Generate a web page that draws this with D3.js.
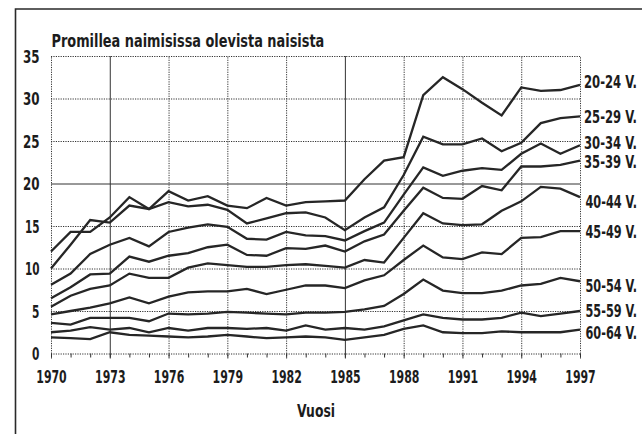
<!DOCTYPE html>
<html><head><meta charset="utf-8">
<script src="https://cdn.jsdelivr.net/npm/d3@7"></script>
<style>
html,body{margin:0;padding:0;background:#fff;}
svg{display:block;}
text{font-family:"Liberation Sans Narrow","Arial Narrow","DejaVu Sans Condensed","Roboto",sans-serif;font-weight:bold;font-stretch:condensed;fill:#1c1c1c;}
</style></head><body>
<svg id="c" width="642" height="434"></svg>
<script>
// ---- data ----
const years = [1970,1971,1972,1973,1974,1975,1976,1977,1978,1979,1980,1981,1982,1983,1984,1985,1986,1987,1988,1989,1990,1991,1992,1993,1994,1995,1996,1997];
const xTickYears = [1970,1973,1976,1979,1982,1985,1988,1991,1994,1997];
const yTicks = [0,5,10,15,20,25,30,35];
const seriesNames = ["20-24 V.","25-29 V.","30-34 V.","35-39 V.","40-44 V.","45-49 V.","50-54 V.","55-59 V.","60-64 V."];
const v20_24 = [12.0,14.3,14.3,16.0,18.4,17.0,19.1,18.0,18.5,17.4,17.1,18.3,17.4,17.8,17.9,18.0,20.5,22.7,23.1,30.4,32.5,31.1,29.5,28.0,31.3,30.9,31.0,31.6];
const v25_29 = [10.0,12.8,15.7,15.4,17.4,17.0,17.8,17.3,17.5,16.9,15.3,15.9,16.5,16.6,16.0,14.5,16.0,17.2,21.0,25.5,24.6,24.6,25.3,23.8,24.8,27.1,27.7,27.9];
const v30_34 = [8.1,9.4,11.7,12.8,13.6,12.6,14.3,14.8,15.2,14.9,13.5,13.4,14.3,13.9,13.8,13.3,14.4,15.4,18.7,21.9,20.9,21.5,21.8,21.6,23.5,24.7,23.5,24.5];
const v35_39 = [6.5,7.8,9.3,9.4,11.4,10.8,11.5,11.8,12.5,12.8,11.6,11.5,12.4,12.3,12.7,12.0,13.2,14.0,16.8,19.5,18.3,18.2,19.7,19.2,22.0,22.0,22.2,22.7];
const v40_44 = [5.5,6.8,7.6,8.0,9.4,8.9,8.9,10.1,10.6,10.4,10.2,10.2,10.4,10.5,10.3,10.1,11.0,10.7,13.6,16.5,15.3,15.1,15.2,16.8,17.9,19.6,19.4,18.4];
const v45_49 = [4.6,5.0,5.4,5.9,6.6,5.9,6.7,7.2,7.3,7.3,7.6,7.0,7.5,8.0,8.0,7.7,8.6,9.2,11.0,12.7,11.3,11.1,11.9,11.7,13.6,13.7,14.4,14.4];
const v50_54 = [3.6,3.4,4.2,4.2,4.2,3.8,4.7,4.6,4.7,4.9,4.8,4.7,4.6,4.8,4.8,4.9,5.2,5.6,7.0,8.7,7.4,7.1,7.1,7.4,8.0,8.2,8.9,8.5];
const v55_59 = [2.5,2.7,3.1,2.8,3.0,2.5,3.0,2.7,3.0,3.0,2.9,3.0,2.7,3.3,2.8,3.0,2.8,3.2,3.9,4.6,4.2,4.0,4.0,4.2,4.8,4.4,4.7,5.0];
const v60_64 = [1.9,1.8,1.7,2.5,2.2,2.1,2.0,1.9,2.0,2.2,2.0,1.8,1.9,2.0,1.9,1.6,1.9,2.2,2.9,3.3,2.5,2.4,2.4,2.6,2.5,2.5,2.5,2.8];
const titleText = "Promillea naimisissa olevista naisista";
const xTitleText = "Vuosi";

const seriesValues = [v20_24,v25_29,v30_34,v35_39,v40_44,v45_49,v50_54,v55_59,v60_64];

// ---- layout ----
const svg = d3.select("#c");
const pL = 51, pR = 580, pT = 56, pB = 353.5;
const x = d3.scaleLinear().domain([1970,1997]).range([pL,pR]);
const y = d3.scaleLinear().domain([0,35]).range([pB,pT]);
const solidX = new Set([1973,1985]);
const solidY = new Set([20]);

// squeeze a text horizontally to a target width (about its anchor point)
function fit(sel, target){
  sel.each(function(d,i){
    const t = d3.select(this);
    const w = this.getComputedTextLength();
    const tw = typeof target === "function" ? target(d,i) : target;
    const x0 = +t.attr("x") || 0, y0 = +t.attr("y") || 0;
    if (w > 0) t.attr("transform",`translate(${x0},${y0}) scale(${tw/w},1) translate(${-x0},${-y0})`);
  });
}

// frame
svg.append("path").attr("d","M15.5,434V9H642").attr("fill","none").attr("stroke","#2a2a2a").attr("stroke-width",1.6);

// minor ticks (every year)
const minor = svg.append("g").attr("transform",`translate(0,${pB})`)
  .call(d3.axisBottom(x).tickValues(years).tickSize(4).tickFormat(""));
minor.select(".domain").remove();
minor.selectAll("line").attr("stroke","#333").attr("stroke-width",1);

// vertical grid
const gx = svg.append("g").attr("transform",`translate(0,${pB+5})`)
  .call(d3.axisBottom(x).tickValues(xTickYears).tickSize(-(pB+5-pT)).tickFormat(""));
gx.select(".domain").remove();
gx.selectAll(".tick line").attr("stroke","#333").attr("stroke-width",1)
  .attr("stroke-dasharray",d=>solidX.has(d)?null:"1.2,1.2");

// horizontal grid
const gy = svg.append("g").attr("transform",`translate(${pL},0)`)
  .call(d3.axisRight(y).tickValues(yTicks).tickSize(pR-pL).tickFormat(""));
gy.select(".domain").remove();
gy.selectAll(".tick line").attr("stroke","#333").attr("stroke-width",1)
  .attr("stroke-dasharray",d=>solidY.has(d)?null:"1.2,1.2");

// y labels
const yl = svg.append("g").attr("transform","translate(39.5,0)")
  .call(d3.axisLeft(y).tickValues(yTicks).tickSize(0).tickPadding(0));
yl.select(".domain").remove();
yl.selectAll("text").attr("font-size",17).attr("dy",null).attr("y",6.2).attr("x",0)
  .attr("font-family",null).attr("fill","#1c1c1c");
fit(yl.selectAll("text"), d=>String(d).length===1?7.4:(String(d)[0]==="1"?14.6:16.6));

// x labels
const xl = svg.append("g").attr("transform",`translate(0,${pB})`)
  .call(d3.axisBottom(x).tickValues(xTickYears).tickSize(0).tickPadding(0).tickFormat(d3.format("d")));
xl.select(".domain").remove();
xl.selectAll("text").attr("font-size",17).attr("dy",null).attr("y",29.5).attr("x",0)
  .attr("font-family",null).attr("fill","#1c1c1c");
fit(xl.selectAll("text"), 30.5);

// title
const tt = svg.append("text").attr("x",51.5).attr("y",46.7).attr("font-size",17.5).text(titleText);
fit(tt, 273);
const xt = svg.append("text").attr("x",(pL+pR)/2+0.5).attr("y",416.7).attr("font-size",17.5)
  .attr("text-anchor","middle").text(xTitleText);
fit(xt, 38);

// lines
const line = d3.line().x((d,i)=>x(years[i])).y(d=>y(d));
svg.append("g").selectAll("path").data(seriesValues).join("path")
  .attr("d",line).attr("fill","none").attr("stroke","#262626")
  .attr("stroke-width",2.3).attr("stroke-linejoin","miter");

// end labels
const labelNudge = [-3.2,0.4,-2,1.2,4.6,0.6,4.7,-0.3,3.6];
const el = svg.append("g").selectAll("text").data(seriesNames).join("text")
  .attr("x",(d,i)=>i>=4?585.5:584)
  .attr("y",(d,i)=>y(seriesValues[i][seriesValues[i].length-1])+labelNudge[i]+6.2)
  .attr("font-size",17)
  .text(d=>d);
fit(el, (d,i)=>i>=4?51.5:53);
</script>
</body></html>
